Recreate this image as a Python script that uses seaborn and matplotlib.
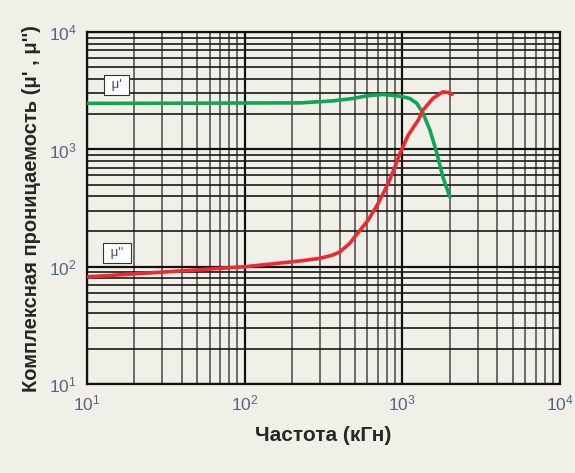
## Complex permeability vs frequency (log-log)
import numpy as np
import pandas as pd
import matplotlib
matplotlib.use("Agg")
import matplotlib.pyplot as plt
import seaborn as sns
from matplotlib.ticker import LogLocator, FixedFormatter, NullFormatter

## Values
freq_mu1 = [10, 50, 100, 224, 363, 486, 597, 754, 966, 1117, 1238, 1352, 1497, 1656, 1808, 2005]
mu1 = [2470, 2480, 2490, 2495, 2595, 2720, 2866, 2944, 2845, 2720, 2466, 2037, 1462, 930, 581, 392]
freq_mu2 = [10, 30, 100, 224, 300, 363, 402, 466, 500, 608, 703, 814, 898, 966, 1090, 1262,
            1352, 1563, 1808, 1945, 2066]
mu2 = [82, 90, 100, 112, 118, 126, 134, 159, 180, 250, 347, 513, 711, 925, 1325, 1778,
       2163, 2722, 3098, 3062, 2944]

dec_ticks = [10, 100, 1000, 10000]
dec_labels = [r"$10^{1}$", r"$10^{2}$", r"$10^{3}$", r"$10^{4}$"]

df = pd.concat([
    pd.DataFrame({"freq": freq_mu1, "mu": mu1, "series": "mu1"}),
    pd.DataFrame({"freq": freq_mu2, "mu": mu2, "series": "mu2"}),
])

bg = "#f1f0e8"
sns.set_style("white")
plt.rcParams["font.family"] = ["Liberation Sans", "DejaVu Sans"]
plt.rcParams["mathtext.fontset"] = "custom"
plt.rcParams["mathtext.rm"] = "Liberation Sans"
plt.rcParams["mathtext.it"] = "Liberation Sans"
plt.rcParams["mathtext.default"] = "regular"

fig = plt.figure(figsize=(5.75, 4.73), dpi=100, facecolor=bg)
ax = fig.add_axes([0.151, 0.188, 0.823, 0.744])
ax.set_facecolor(bg)

sns.lineplot(data=df, x="freq", y="mu", hue="series", palette=["#0fa552", "#ee2a30"],
             linewidth=2.6, legend=False, ax=ax, zorder=5)
for ln in ax.get_lines():
    ln.set_solid_joinstyle("round")
    ln.set_solid_capstyle("round")

ax.set_xscale("log")
ax.set_yscale("log")
ax.set_xlim(10, 10000)
ax.set_ylim(10, 10000)

# grid: major + minor, horizontal lines darker than vertical minors
ax.xaxis.set_minor_locator(LogLocator(base=10, subs=np.arange(2, 10)))
ax.yaxis.set_minor_locator(LogLocator(base=10, subs=np.arange(2, 10)))
ax.grid(which="major", axis="both", color="#111111", linewidth=1.6)
ax.grid(which="minor", axis="y", color="#1a1a1a", linewidth=1.2)
ax.grid(which="minor", axis="x", color="#555555", linewidth=1.2)
ax.set_axisbelow(True)

ax.set_xticks(dec_ticks)
ax.set_yticks(dec_ticks)
ax.xaxis.set_major_formatter(FixedFormatter(dec_labels))
ax.yaxis.set_major_formatter(FixedFormatter(dec_labels))
ax.xaxis.set_minor_formatter(NullFormatter())
ax.yaxis.set_minor_formatter(NullFormatter())
ax.tick_params(which="both", length=0, labelsize=12.5, labelcolor="#52677f")
ax.tick_params(axis="x", pad=7)
ax.tick_params(axis="y", pad=7)

for s in ax.spines.values():
    s.set_color("#111111")
    s.set_linewidth(1.6)

ax.set_xlabel("Частота (кГн)", fontsize=15, fontweight="bold", labelpad=9)
ax.set_ylabel("Комплексная проницаемость (μ' , μ'')", fontsize=14.5,
              fontweight="bold", labelpad=6)

box = dict(boxstyle="square,pad=0.3", facecolor="white", edgecolor="#333333", linewidth=0.8)
ax.text(15.5, 3530, " μ' ", fontsize=9.5, color="#33506e", ha="center", va="center", bbox=box, zorder=6)
ax.text(15.5, 131, " μ'' ", fontsize=9.5, color="#33506e", ha="center", va="center", bbox=box, zorder=6)

plt.savefig("out.png", dpi=100, facecolor=bg)
